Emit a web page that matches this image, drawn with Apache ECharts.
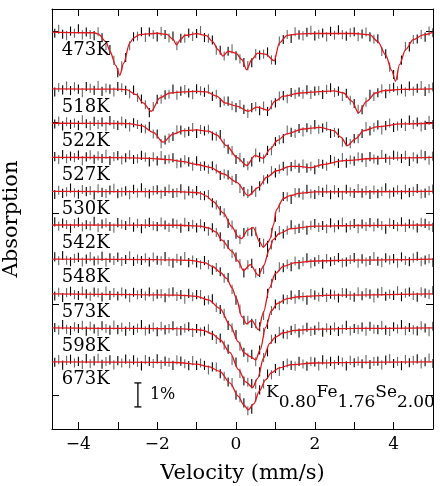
<!DOCTYPE html>
<html>
<head>
<meta charset="utf-8">
<script src="https://cdn.jsdelivr.net/npm/echarts@6/dist/echarts.min.js"></script>
<style>
  html, body { margin: 0; padding: 0; background: #fff; }
  #chart { width: 440px; height: 486px; }
</style>
</head>
<body>
<div id="chart"></div>
<script>
// velocity channels (mm/s)
const velocity = [
  -4.6, -4.5, -4.4, -4.3, -4.2, -4.1, -4.0, -3.9, -3.8, -3.7,
  -3.6, -3.5, -3.4, -3.3, -3.2, -3.1, -3.0, -2.9, -2.8, -2.7,
  -2.6, -2.5, -2.4, -2.3, -2.2, -2.1, -2.0, -1.9, -1.8, -1.7,
  -1.6, -1.5, -1.4, -1.3, -1.2, -1.1, -1.0, -0.9, -0.8, -0.7,
  -0.6, -0.5, -0.4, -0.3, -0.2, -0.1, 0.0, 0.1, 0.2, 0.3,
  0.4, 0.5, 0.6, 0.7, 0.8, 0.9, 1.0, 1.1, 1.2, 1.3,
  1.4, 1.5, 1.6, 1.7, 1.8, 1.9, 2.0, 2.1, 2.2, 2.3,
  2.4, 2.5, 2.6, 2.7, 2.8, 2.9, 3.0, 3.1, 3.2, 3.3,
  3.4, 3.5, 3.6, 3.7, 3.8, 3.9, 4.0, 4.1, 4.2, 4.3,
  4.4, 4.5, 4.6, 4.7, 4.8, 4.9, 5.0
]

const temps = ['473K', '518K', '522K', '527K', '530K', '542K', '548K', '573K', '598K', '673K']
// baseline of each stacked spectrum (%)
const offsets = [16.54, 14.17, 12.74, 11.32, 9.9, 8.5, 7.08, 5.63, 4.21, 2.8]

// measured absorption, in 0.01 %
const c473 = [5, -11, 9, 15, -4, 5, -13, 12, 0, 10, 15, -1, 24, 56, 73, 118, 169, 141, 106, 57, 20, 17, -1, 22, 0, 10, 20, -3, 10, 25, 17, 57, 26, 26, 4, 18, 6, -6, 23, 26, 33, 76, 76, 100, 80, 70, 99, 112, 127, 140, 128, 90, 96, 92, 83, 116, 117, 38, 31, 10, 27, -1, 12, 16, 1, -7, 16, 9, 4, 20, -3, 13, -9, 11, 17, 3, -1, 19, 8, 0, 20, 30, 28, 81, 91, 146, 177, 180, 117, 60, 62, 31, 29, 10, 21, -4, 3]
const c518 = [13, -6, 4, -12, 7, -9, 1, 16, -10, -3, 6, -14, 10, -4, 1, 13, -10, -5, 6, 20, 5, 35, 42, 66, 99, 74, 43, 43, 25, 22, 1, 26, 9, 3, 17, 24, 0, 8, 14, 1, 31, 22, 57, 51, 51, 70, 78, 65, 85, 102, 78, 74, 91, 71, 94, 66, 58, 30, 28, 41, 15, 22, 13, 22, 4, 23, 9, 7, 23, 2, -5, 15, 9, 31, 18, 47, 61, 85, 87, 55, 22, 31, 16, 0, 20, -1, -7, 8, 0, 13, -12, 9, -3, -14, 10, -1, -8]
const c522 = [3, -9, 11, -6, 5, -1, 9, -14, 2, 10, -8, 6, -5, 14, -11, 5, 9, -9, 2, 15, -2, 5, 21, 24, 13, 45, 45, 85, 70, 62, 55, 27, 28, 40, 34, 18, 43, 26, 32, 25, 53, 54, 47, 84, 108, 114, 151, 143, 164, 177, 161, 124, 141, 149, 113, 115, 76, 69, 64, 28, 38, 43, 22, 36, 19, 27, 6, 25, 20, 13, 43, 38, 41, 79, 77, 85, 64, 64, 43, 14, 32, 17, 7, 28, 10, -1, 18, 12, 0, 13, -13, 5, -5, 15, 9, -12, 5]
const c527 = [-3, 9, -11, 6, -5, 1, -9, 14, -2, -10, 8, -6, 5, -13, 13, -3, -7, 11, 2, -10, 9, 6, -8, -1, 19, -2, 15, -7, 10, 7, 2, 27, 23, 10, 19, 37, 15, 38, 36, 49, 35, 48, 76, 69, 73, 96, 89, 130, 143, 151, 137, 146, 119, 94, 90, 56, 65, 49, 37, 57, 39, 29, 45, 28, 45, 37, 52, 26, 29, 37, 9, 16, 25, 1, 24, 10, 16, -2, 2, 21, -3, 7, 12, -12, 4, 12, -9, -5, 5, -8, 17, -2, 7, -13, -7, 12, -5]
const c530 = [13, -5, 8, 2, -14, 6, 12, -8, 1, -4, 15, -11, 4, 9, -6, -13, 10, 3, -2, 14, -9, 7, -15, 5, 11, -3, -7, 12, 0, -10, 8, 5, -11, 15, -2, 10, -3, 17, 18, 13, 48, 56, 80, 89, 133, 140, 178, 200, 171, 168, 168, 166, 213, 216, 225, 172, 107, 68, 21, 23, 33, 5, 6, 16, -9, 10, 13, -3, 4, -10, 14, -7, 5, 16, -9, 2, 9, -12, 7, -3, 13, -6, 10, 0, -15, 11, 3, -6, 14, -9, 5, 0, -12, 11, 7, -3, -10]
const c542 = [-13, 5, -8, -2, 14, -6, -12, 8, -1, 4, -15, 11, -4, -9, 6, 13, -10, -3, 2, -14, 9, -7, 15, -5, -11, 3, 7, -12, 0, 10, -8, -3, 13, -11, 7, -3, 12, -5, 7, 26, 12, 31, 49, 80, 81, 119, 134, 161, 200, 166, 160, 201, 198, 185, 113, 83, 45, 23, 37, 22, -1, 20, 14, 1, 22, 1, -6, 10, 2, 15, -9, 12, -1, -12, 12, 1, -6, 15, -4, 6, -10, 8, -8, 2, 17, -9, -2, 7, -13, 10, -5, 0, 12, -11, -7, 3, 10]
const c548 = [-9, 7, -15, 5, 11, -3, -7, 12, 0, -10, 8, 4, -12, 13, -5, 6, -8, 10, 2, -14, 10, 0, 6, -5, 12, -8, 5, 7, -10, 11, 17, -3, 7, -11, 15, 4, 16, 24, 6, 23, 46, 35, 53, 80, 77, 126, 171, 208, 255, 255, 268, 269, 282, 235, 143, 101, 68, 32, 36, 21, 32, 8, 23, 11, -5, 19, 11, 2, 21, -2, 11, 6, -6, 16, 12, 2, -6, 17, -1, 12, 6, -11, 9, 15, -5, 4, -2, 17, -9, 6, 11, -5, -12, 11, 4, -2, 14]
const c573 = [9, -7, 15, -5, -11, 3, 7, -12, 0, 10, -8, -4, 13, -12, 6, -5, 9, -8, 0, 16, -7, 4, -2, 9, -8, 12, 1, -1, 16, -4, -9, 11, 3, 22, -2, 12, 3, 3, 29, 25, 21, 56, 65, 81, 131, 141, 169, 218, 243, 266, 252, 283, 234, 160, 127, 69, 42, 49, 22, 24, 5, 22, 3, 12, 26, -1, 5, 13, -7, 15, 1, 5, 17, -6, -3, 7, 14, -9, 8, -5, 1, 17, -3, -10, 10, 1, 6, -13, 12, -3, -8, 7, 14, -9, -3, 2, -14]
const c598 = [-2, 9, -14, 6, 11, -5, 2, -11, 13, -8, 4, 15, -9, 2, 9, -12, 7, -3, 13, -6, 10, 1, -14, 12, 5, -4, 16, -7, 8, 3, -9, 14, 11, 1, -5, 19, 2, 17, 13, 4, 31, 48, 42, 72, 88, 135, 142, 189, 221, 226, 232, 235, 183, 123, 99, 47, 45, 14, 25, 28, 10, 3, 21, 8, -3, 14, 9, -7, 18, -1, 10, -4, 14, 5, -11, 12, 2, 7, -4, 13, -7, 5, 7, -11, 9, 15, -5, 4, -14, 11, -2, 8, 12, -9, 0, 16, -7]
const c673 = [2, -9, 14, -6, -11, 5, -2, 11, -13, 8, -4, -15, 10, -1, -8, 13, -5, 5, -11, 8, -8, 2, 17, -9, -2, 7, -12, 11, -3, 2, 15, -8, -3, 8, 16, -5, 15, 5, 15, 34, 21, 22, 50, 60, 84, 87, 139, 150, 171, 204, 197, 147, 117, 92, 51, 54, 28, 40, 16, 5, 15, 18, -2, 9, 18, -2, 1, 17, -8, 9, -2, 12, -6, 1, 17, -6, 4, -3, 8, -9, 11, -1, -3, 13, -7, -13, 7, -2, 16, -9, 4, -6, -12, 9, 0, -16, 7]

// fitted curves: [velocity, absorption %]
const fit473 = [[-4.67, 0], [-3.6, 0.03], [-3.5, 0.08], [-3.3, 0.4], [-3.2, 0.8], [-3.05, 1.4], [-2.95, 1.8], [-2.85, 1.3], [-2.7, 0.46], [-2.6, 0.25], [-2.45, 0.11], [-2.0, 0.05], [-1.75, 0.1], [-1.6, 0.3], [-1.51, 0.53], [-1.4, 0.3], [-1.3, 0.14], [-1.0, 0.07], [-0.75, 0.15], [-0.6, 0.39], [-0.45, 0.74], [-0.33, 1.0], [-0.2, 0.8], [0.0, 0.875], [0.15, 1.15], [0.27, 1.57], [0.4, 1.15], [0.55, 0.875], [0.75, 0.92], [0.97, 1.2], [1.1, 0.46], [1.3, 0.14], [1.6, 0.08], [2.0, 0.06], [3.0, 0.06], [3.4, 0.12], [3.6, 0.4], [3.8, 0.96], [3.95, 1.6], [4.05, 2.05], [4.15, 1.36], [4.3, 0.74], [4.5, 0.32], [4.75, 0.12], [5.0, 0]]
const fit518 = [[-4.67, 0], [-3.0, 0.01], [-2.78, 0.03], [-2.53, 0.24], [-2.36, 0.58], [-2.15, 0.93], [-1.93, 0.37], [-1.68, 0.17], [-1.34, 0.12], [-1.0, 0.1], [-0.75, 0.12], [-0.49, 0.3], [-0.28, 0.58], [0.02, 0.72], [0.31, 0.93], [0.53, 0.76], [0.82, 0.89], [0.99, 0.51], [1.2, 0.3], [1.63, 0.17], [2.05, 0.12], [2.48, 0.08], [2.73, 0.17], [2.94, 0.51], [3.11, 1.0], [3.32, 0.51], [3.54, 0.17], [3.75, 0.07], [4.2, 0.02], [5.0, 0]]
const fit522 = [[-4.67, 0], [-2.9, 0.01], [-2.73, 0.02], [-2.4, 0.1], [-2.1, 0.38], [-1.85, 0.79], [-1.6, 0.45], [-1.34, 0.31], [-1.0, 0.28], [-0.7, 0.33], [-0.49, 0.49], [-0.24, 0.93], [0.02, 1.42], [0.27, 1.76], [0.48, 1.35], [0.69, 1.46], [0.87, 1.07], [1.05, 0.72], [1.29, 0.44], [1.71, 0.24], [2.14, 0.17], [2.48, 0.31], [2.66, 0.58], [2.83, 0.93], [3.03, 0.65], [3.24, 0.31], [3.6, 0.14], [4.2, 0.03], [5.0, 0]]
const fit527 = [[-4.67, 0], [-3.0, 0.01], [-2.19, 0.04], [-1.7, 0.1], [-1.34, 0.18], [-1.0, 0.3], [-0.66, 0.42], [-0.32, 0.69], [0.02, 1.04], [0.31, 1.6], [0.57, 1.25], [0.78, 0.83], [1.03, 0.56], [1.37, 0.38], [1.6, 0.38], [1.9, 0.43], [2.2, 0.3], [2.73, 0.14], [3.5, 0.05], [4.2, 0.02], [5.0, 0]]
const fit530 = [[-4.67, 0], [-1.5, 0.01], [-1.2, 0.03], [-0.92, 0.06], [-0.75, 0.2], [-0.58, 0.42], [-0.32, 0.9], [-0.11, 1.46], [0.06, 1.9], [0.14, 1.97], [0.3, 1.6], [0.44, 1.51], [0.6, 2.1], [0.69, 2.32], [0.8, 2.15], [0.87, 1.96], [0.95, 1.4], [1.03, 0.75], [1.2, 0.3], [1.37, 0.18], [1.6, 0.08], [2.0, 0.02], [5.0, 0]]
const fit542 = [[-4.67, 0], [-1.5, 0.01], [-0.9, 0.05], [-0.7, 0.12], [-0.5, 0.3], [-0.36, 0.63], [-0.1, 1.1], [0.05, 1.5], [0.19, 1.9], [0.36, 1.65], [0.57, 2.1], [0.7, 1.7], [0.85, 1.0], [0.95, 0.6], [1.1, 0.35], [1.4, 0.15], [2.0, 0.05], [3.0, 0.02], [5.0, 0]]
const fit548 = [[-4.67, 0], [-2.0, 0.02], [-1.17, 0.05], [-0.8, 0.15], [-0.58, 0.32], [-0.4, 0.55], [-0.24, 0.8], [-0.1, 1.2], [0.0, 1.6], [0.15, 2.4], [0.27, 2.7], [0.4, 2.55], [0.57, 2.95], [0.7, 2.2], [0.85, 1.2], [1.0, 0.6], [1.2, 0.3], [1.5, 0.15], [2.0, 0.08], [3.0, 0.04], [5.0, 0]]
const fit573 = [[-4.67, 0], [-2.5, 0.03], [-1.5, 0.05], [-1.0, 0.1], [-0.7, 0.25], [-0.41, 0.6], [-0.15, 1.3], [0.06, 2.0], [0.2, 2.45], [0.35, 2.6], [0.5, 2.75], [0.62, 2.3], [0.75, 1.4], [0.9, 0.7], [1.05, 0.4], [1.3, 0.2], [1.6, 0.12], [2.0, 0.08], [2.5, 0.05], [5.0, 0]]
const fit598 = [[-4.67, 0], [-2.5, 0.02], [-1.5, 0.03], [-1.0, 0.07], [-0.83, 0.1], [-0.6, 0.25], [-0.41, 0.48], [-0.15, 1.03], [0.06, 1.73], [0.25, 2.25], [0.42, 2.48], [0.55, 2.1], [0.7, 1.25], [0.85, 0.65], [1.0, 0.38], [1.2, 0.2], [1.5, 0.1], [2.0, 0.05], [3.0, 0.02], [5.0, 0]]
const fit673 = [[-4.67, 0], [-2.0, 0.02], [-1.5, 0.03], [-1.0, 0.1], [-0.7, 0.2], [-0.41, 0.4], [-0.15, 0.89], [0.06, 1.44], [0.2, 1.8], [0.31, 2.0], [0.45, 1.75], [0.6, 1.2], [0.75, 0.75], [0.9, 0.45], [1.1, 0.25], [1.4, 0.12], [2.0, 0.05], [3.0, 0.02], [5.0, 0]]

const xTicks = [-4, -3, -2, -1, 0, 1, 2, 3, 4]
const xLabels = [-4, -2, 0, 2, 4]
const yTicks = [1.42, 5.21, 9.0, 12.79, 16.58]
// 1% scale bar: [velocity, bottom, top]
const scaleBar = [[-2.49, 0.92, 1.92]]

const counts = [c473, c518, c522, c527, c530, c542, c548, c573, c598, c673]
const fits = [fit473, fit518, fit522, fit527, fit530, fit542, fit548, fit573, fit598, fit673]

const FONT = 'DejaVu Serif'
const BAR = 0.19 // half length of error bar (%)

const points = []
counts.forEach((c, k) => {
  c.forEach((d, i) => {
    points.push([velocity[i], offsets[k] - d / 100, i % 2])
  })
})

const fitSeries = fits.map((f, k) => ({
  type: 'line',
  name: temps[k],
  data: f.map(p => [p[0], offsets[k] - p[1]]),
  smooth: 0.3,
  smoothMonotone: 'x',
  symbol: 'none',
  z: 5,
  lineStyle: { color: '#e3161b', width: 1.3 }
}))

const chart = echarts.init(document.getElementById('chart'), null, { renderer: 'canvas' })

const xAxisBase = {
  type: 'value',
  min: -4.67,
  max: 5,
  splitLine: { show: false },
  axisLine: { show: true, onZero: false, lineStyle: { color: '#000', width: 1 } },
  axisTick: { inside: true, length: 7, customValues: xTicks, lineStyle: { color: '#000' } }
}
const yAxisBase = {
  type: 'value',
  min: 0,
  max: 17.5,
  splitLine: { show: false },
  axisLine: { show: true, onZero: false, lineStyle: { color: '#000', width: 1 } },
  axisTick: { inside: true, length: 7, customValues: yTicks, lineStyle: { color: '#000' } },
  axisLabel: { show: false }
}

chart.setOption({
  animation: false,
  backgroundColor: '#fff',
  grid: { left: 52, right: 7, top: 9, bottom: 57, outerBoundsMode: 'none', containLabel: false },
  xAxis: [
    Object.assign({}, xAxisBase, {
      position: 'bottom',
      name: 'Velocity (mm/s)',
      nameLocation: 'middle',
      nameGap: 34,
      nameTextStyle: { fontFamily: FONT, fontSize: 21, color: '#000' },
      axisLabel: {
        customValues: xLabels,
        margin: 7,
        fontFamily: FONT,
        fontSize: 17,
        color: '#000',
        formatter: v => String(v).replace('-', '\u2212')
      }
    }),
    Object.assign({}, xAxisBase, { position: 'top', axisLabel: { show: false } })
  ],
  yAxis: [
    Object.assign({}, yAxisBase, {
      position: 'left',
      name: 'Absorption',
      nameLocation: 'middle',
      nameGap: 30,
      nameRotate: 90,
      nameTextStyle: { fontFamily: FONT, fontSize: 21, color: '#000' }
    }),
    Object.assign({}, yAxisBase, { position: 'right' })
  ],
  series: [
    {
      type: 'custom',
      name: 'data',
      data: points,
      z: 2,
      renderItem: (params, api) => {
        const a = api.coord([api.value(0), api.value(1) + BAR])
        const b = api.coord([api.value(0), api.value(1) - BAR])
        return {
          type: 'line',
          shape: { x1: a[0], y1: a[1], x2: b[0], y2: b[1] },
          style: { stroke: api.value(2) ? '#666' : '#000', lineWidth: 1.1 }
        }
      }
    },
    ...fitSeries,
    {
      type: 'scatter',
      name: 'temps',
      data: temps.map((t, k) => [-4.42, offsets[k] - 0.75, t]),
      symbolSize: 0,
      itemStyle: { opacity: 1 },
      z: 6,
      label: {
        show: true,
        position: 'right',
        distance: 0,
        formatter: p => p.value[2],
        fontFamily: FONT,
        fontSize: 18,
        color: '#000'
      }
    },
    {
      type: 'custom',
      name: 'scale',
      data: scaleBar,
      z: 6,
      renderItem: (params, api) => {
        const lo = api.coord([api.value(0), api.value(1)])
        const hi = api.coord([api.value(0), api.value(2)])
        const st = { stroke: '#000', lineWidth: 1.3 }
        return {
          type: 'group',
          children: [
            { type: 'line', shape: { x1: lo[0], y1: lo[1], x2: hi[0], y2: hi[1] }, style: st },
            { type: 'line', shape: { x1: lo[0] - 3.5, y1: lo[1], x2: lo[0] + 3.5, y2: lo[1] }, style: st },
            { type: 'line', shape: { x1: hi[0] - 3.5, y1: hi[1], x2: hi[0] + 3.5, y2: hi[1] }, style: st },
            {
              type: 'text',
              style: {
                text: '1%', x: lo[0] + 12, y: (lo[1] + hi[1]) / 2,
                verticalAlign: 'middle', fontFamily: FONT, fontSize: 16, fill: '#000'
              }
            }
          ]
        }
      }
    }
  ],
  graphic: [
    {
      type: 'text',
      left: 266,
      top: 384,
      z: 10,
      style: {
        text: '{n|K}{s|0.80}{n|Fe}{s|1.76}{n|Se}{s|2.00}',
        fill: '#000',
        rich: {
          n: { fontFamily: FONT, fontSize: 17, lineHeight: 18, padding: [0, 0, 10, 0] },
          s: { fontFamily: FONT, fontSize: 17, lineHeight: 18, padding: [10, 0, 0, 0] }
        }
      }
    }
  ]
})
</script>
</body>
</html>
